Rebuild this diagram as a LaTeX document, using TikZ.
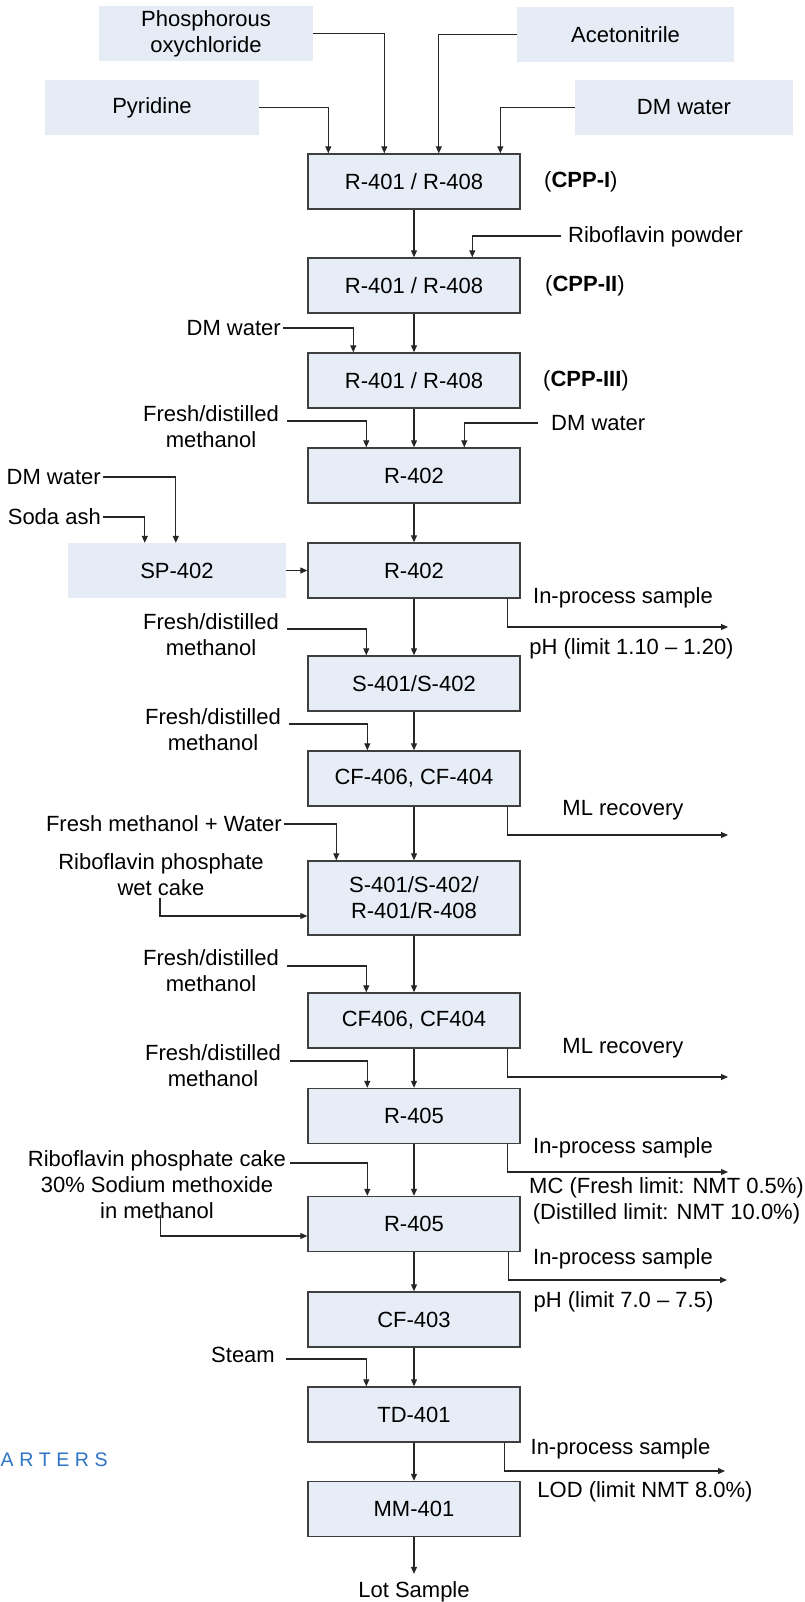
\documentclass[tikz,border=0pt]{standalone}
\usepackage{fontspec}
\setmainfont{Liberation Sans}
\usetikzlibrary{arrows.meta,calc}
\definecolor{boxfill}{HTML}{E7EDF7}
\definecolor{infill}{HTML}{E5ECF6}
\definecolor{boxline}{HTML}{3F3F3F}
\definecolor{wmblue}{HTML}{2F74C4}
\begin{document}
\begin{tikzpicture}[x=1pt,y=-1pt,
 every node/.style={font=\fontsize{22}{26}\selectfont, inner sep=2pt},
 mbox/.style={draw=boxline, line width=1.4pt, fill=boxfill, minimum width=212pt, minimum height=55pt, align=center},
 ibox/.style={fill=infill, minimum height=55pt, align=center},
 lab/.style={align=center},
 arr/.style={line width=1.1pt, draw=black!85, -{Triangle[length=7pt,width=6pt]}}]
\useasboundingbox (0,0) rectangle (804,1602);
\fill[white] (0,0) rectangle (804,1602);

% main column
\node[mbox] (b1) at (414,181.5) {R-401 / R-408};
\node[mbox] (b2) at (414,285.5) {R-401 / R-408};
\node[mbox] (b3) at (414,380.5) {R-401 / R-408};
\node[mbox] (b4) at (414,475.5) {R-402};
\node[mbox] (b5) at (414,570.5) {R-402};
\node[mbox] (b6) at (414,683.5) {S-401/S-402};
\node[mbox] (b7) at (414,778.5) {CF-406, CF-404};
\node[mbox, minimum height=74pt] (b8) at (414,898) {S-401/S-402/\\R-401/R-408};
\node[mbox] (b9) at (414,1020.5) {CF406, CF404};
\node[mbox] (b10) at (414,1116) {R-405};
\node[mbox] (b11) at (414,1224) {R-405};
\node[mbox] (b12) at (414,1319.5) {CF-403};
\node[mbox] (b13) at (414,1414.5) {TD-401};
\node[mbox] (b14) at (414,1509) {MM-401};
\foreach \a/\b in {b1/b2,b2/b3,b3/b4,b4/b5,b5/b6,b6/b7,b7/b8,b8/b9,b9/b10,b10/b11,b11/b12,b12/b13,b13/b14}
  \draw[arr] (\a) -- (\b);

% top inputs
\node[ibox, minimum width=214pt] (phos) at (206,33.5) {Phosphorous\\oxychloride};
\node[ibox, minimum width=217pt] (acet) at (625.5,34.5) {Acetonitrile};
\node[ibox, minimum width=214pt] (pyr) at (152,107.5) {Pyridine};
\node[ibox, minimum width=218pt] (dmw) at (684,107.5) {DM water};
\draw[arr] (pyr.east) -| ($(b1.north west)+(21,0)$);
\draw[arr] (phos.east) -| ($(b1.north west)+(77,0)$);
\draw[arr] (acet.west) -| ($(b1.north west)+(131.5,0)$);
\draw[arr] (dmw.west) -| ($(b1.north west)+(193,0)$);

\node[lab, anchor=west] (cpp1) at (542,182) {(\textbf{CPP-I})};
\node[lab, anchor=west] (cpp2) at (543,285.5) {(\textbf{CPP-II})};
\node[lab, anchor=west] (cpp3) at (541,381) {(\textbf{CPP-III})};

\node[lab, anchor=west] (rp) at (566,237) {Riboflavin powder};
\coordinate (rpS) at (561,236);
\draw[arr] (rpS) -| ($(b2.north west)+(165,0)$);

\node[lab, anchor=east] (dw2) at (283,328) {DM water};
\draw[arr] (dw2.east) -| ($(b3.north west)+(46,0)$);

\node[lab] (fd1) at (211,427) {Fresh/distilled\\methanol};
\coordinate (fd1S) at (287,421);
\draw[arr] (fd1S) -| ($(b4.north west)+(59,0)$);
\node[lab, anchor=west] (dw3) at (549,423) {DM water};
\coordinate (dw3S) at (538,423);
\draw[arr] (dw3S) -| ($(b4.north west)+(157,0)$);

% SP-402
\node[ibox, minimum width=218pt] (sp) at (177,570.5) {SP-402};
\node[lab, anchor=east] (dw4) at (103,477) {DM water};
\draw[arr] (dw4.east) -| ($(sp.north west)+(108,0)$);
\node[lab, anchor=east] (soda) at (103,517) {Soda ash};
\draw[arr] (soda.east) -| ($(sp.north west)+(77,0)$);
\draw[arr] (sp.east) -- (b5.west);

\coordinate (o1) at (728,627);
\draw[arr] ($(b5.south west)+(200,0)$) |- (o1);
\node[lab] (ip1) at (623,598) {In-process sample};
\node[lab] (ph1) at (631.5,649) {pH (limit 1.10 \textendash{} 1.20)};

\node[lab] (fd2) at (211,635) {Fresh/distilled\\methanol};
\coordinate (fd2S) at (287,629);
\draw[arr] (fd2S) -| ($(b6.north west)+(59,0)$);

\node[lab] (fd3) at (213,730) {Fresh/distilled\\methanol};
\coordinate (fd3S) at (289,724);
\draw[arr] (fd3S) -| ($(b7.north west)+(60,0)$);

\coordinate (o2) at (728,835);
\draw[arr] ($(b7.south west)+(200,0)$) |- (o2);
\node[lab] (ml1) at (623,810) {ML recovery};

\node[lab, anchor=east] (fmw) at (284,824) {Fresh methanol + Water};
\draw[arr] (fmw.east) -| ($(b8.north west)+(29,0)$);
\node[lab] (rwc) at (161,875) {Riboflavin phosphate\\wet cake};
\coordinate (rwcS) at (160,898);
\draw[arr] (rwcS) |- ($(b8.west)+(0,18)$);

\node[lab] (fd4) at (211,971) {Fresh/distilled\\methanol};
\coordinate (fd4S) at (287,966);
\draw[arr] (fd4S) -| ($(b9.north west)+(59,0)$);

\coordinate (o3) at (728,1077);
\draw[arr] ($(b9.south west)+(200,0)$) |- (o3);
\node[lab] (ml2) at (623,1048) {ML recovery};

\node[lab] (fd5) at (213,1066) {Fresh/distilled\\methanol};
\coordinate (fd5S) at (290,1061);
\draw[arr] (fd5S) -| ($(b10.north west)+(60,0)$);

\coordinate (o4) at (728,1172);
\draw[arr] ($(b10.south west)+(200,0)$) |- (o4);
\node[lab] (ip2) at (623,1148) {In-process sample};
\node[lab] (mc) at (666.5,1201) {MC (Fresh limit: NMT 0.5\%)\\(Distilled limit: NMT 10.0\%)};

\node[lab] (rpc) at (157,1185) {Riboflavin phosphate cake\\30\% Sodium methoxide\\in methanol};
\coordinate (rpcS) at (290,1163);
\draw[arr] (rpcS) -| ($(b11.north west)+(60,0)$);
\coordinate (rpc2S) at (160.5,1215);
\draw[arr] (rpc2S) |- ($(b11.west)+(0,12)$);

\coordinate (o5) at (727,1280);
\draw[arr] ($(b11.south west)+(201,0)$) |- (o5);
\node[lab] (ip3) at (623,1259) {In-process sample};
\node[lab] (ph2) at (623.5,1302) {pH (limit 7.0 \textendash{} 7.5)};

\node[lab, anchor=east] (steam) at (277,1355) {Steam};
\coordinate (stS) at (286,1359);
\draw[arr] (stS) -| ($(b13.north west)+(59,0)$);

\coordinate (o6) at (725,1471);
\draw[arr] ($(b13.south west)+(197,0)$) |- (o6);
\node[lab] (ip4) at (620.5,1449) {In-process sample};
\node[lab] (lod) at (645,1492) {LOD (limit NMT 8.0\%)};

\node[lab, anchor=base] (lot) at (414,1597) {Lot Sample};
\draw[arr] (b14.south) -- ($(lot.north)+(0,-5)$);

\node[anchor=base west, inner sep=0pt, text=wmblue, font=\fontsize{19.6}{24}\selectfont] (wm) at (0.5,1466) {A\hspace{5.5pt}R\hspace{5.5pt}T\hspace{5.5pt}E\hspace{5.5pt}R\hspace{5.5pt}S};
\end{tikzpicture}
\end{document}
